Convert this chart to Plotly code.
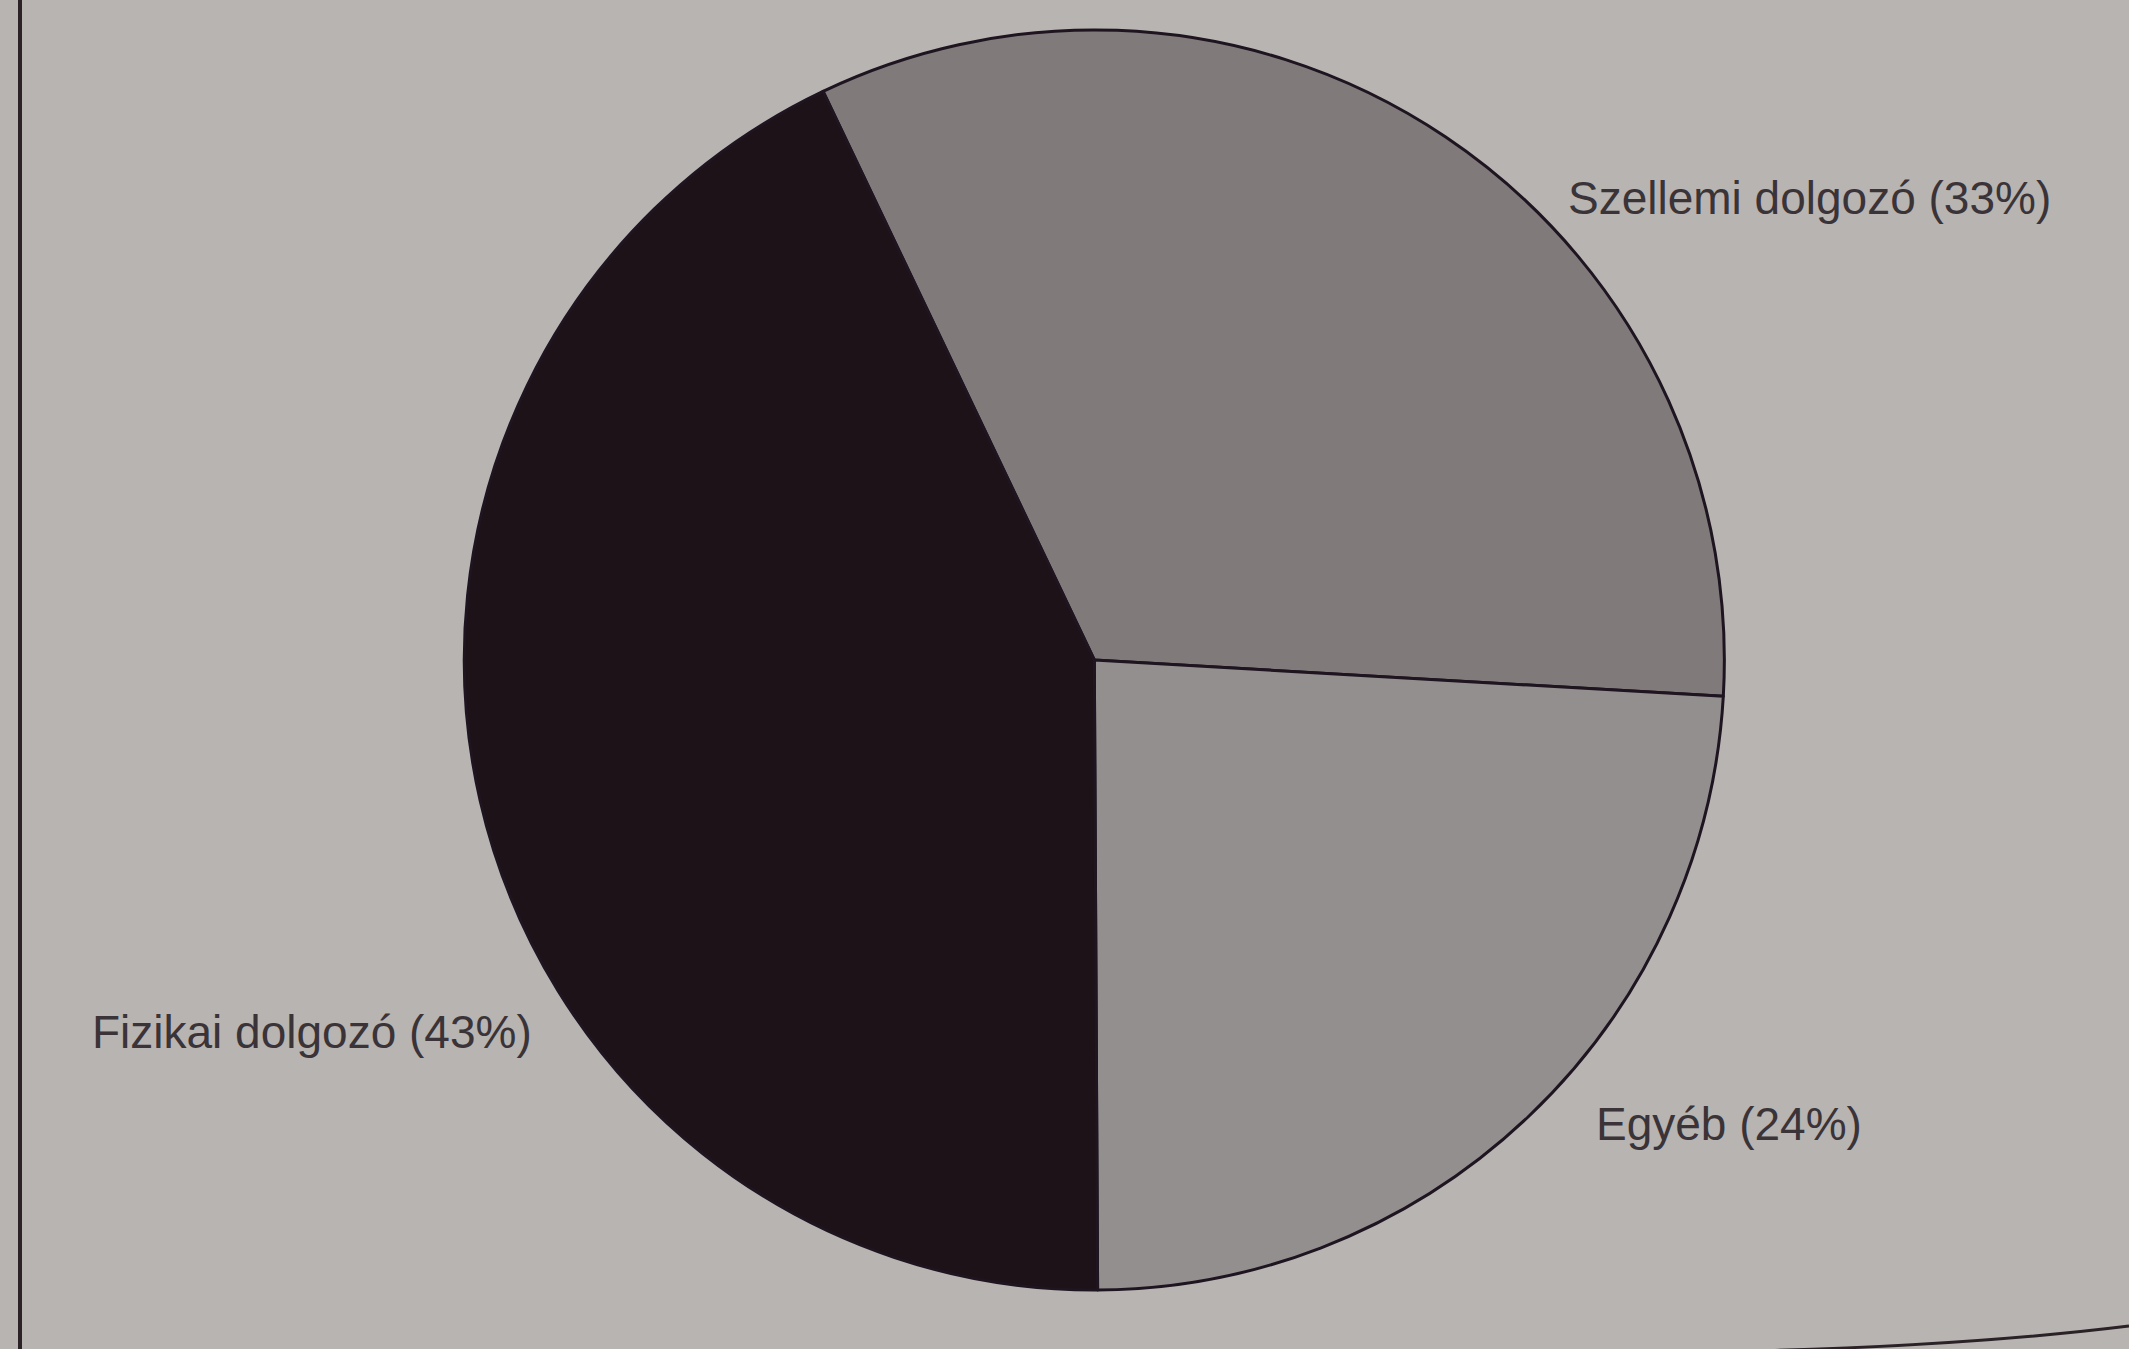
import plotly.graph_objects as go

labels = ["Szellemi dolgozó", "Egyéb", "Fizikai dolgozó"]
values = [33, 24, 43]
colors = ["#817a7a", "#948f8f", "#1d1217"]

W, H = 2129, 1349
bg = "#b8b4b2"

fig = go.Figure()
fig.add_trace(go.Pie(
    labels=labels,
    values=values,
    sort=False,
    direction="clockwise",
    rotation=-25.5,
    marker=dict(colors=colors, line=dict(color="#1e1520", width=3)),
    textinfo="none",
    hoverinfo="label+percent",
    showlegend=False,
    domain=dict(x=[0.217, 0.811], y=[0.0437, 0.9778]),
))

# label positions (pixels), left anchored
label_pos = [(1566, 198), (1594, 1124), (90, 1032)]
for lab, val, (px, py) in zip(labels, values, label_pos):
    fig.add_annotation(
        x=px / W, y=1 - py / H, xref="paper", yref="paper",
        xanchor="left", yanchor="middle", showarrow=False,
        text=f"{lab} ({val}%)",
        font=dict(family="Liberation Sans, Arial, sans-serif", size=46, color="#3a3337"),
    )

# frame lines of the printed page
fig.add_shape(type="line", xref="paper", yref="paper",
              x0=20 / W, x1=20 / W, y0=0, y1=1,
              line=dict(color="#2a2226", width=4))
x0, y0 = 1700 / W, 1 - 1352 / H
cx, cy = 1950 / W, 1 - 1348 / H
x1, y1 = 1.0, 1 - 1326 / H
fig.add_shape(type="path", xref="paper", yref="paper",
              path=f"M {x0} {y0} Q {cx} {cy} {x1} {y1}",
              line=dict(color="#2a2226", width=3))

fig.update_layout(
    width=W, height=H,
    margin=dict(l=0, r=0, t=0, b=0),
    paper_bgcolor=bg, plot_bgcolor=bg,
)

fig.write_html(
    "out.html",
    config={"displayModeBar": False},
    post_script=f"document.body.style.margin='0';document.body.style.background='{bg}';",
)
